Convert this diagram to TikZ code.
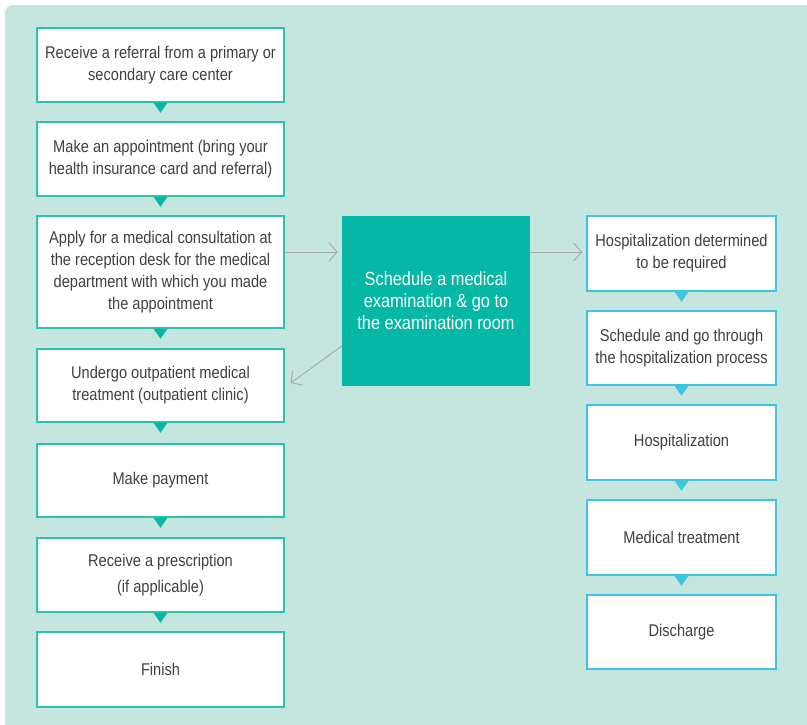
\documentclass[tikz,border=0pt]{standalone}
\usepackage{fontspec}
\setmainfont{Liberation Sans}[FakeStretch=0.86]
\usetikzlibrary{arrows.meta}
\definecolor{bgc}{HTML}{C5E5DF}
\definecolor{tealb}{HTML}{2CC2AD}
\definecolor{tealf}{HTML}{05B8A5}
\definecolor{cyanb}{HTML}{3CC6E0}
\definecolor{txt}{HTML}{404040}
\definecolor{arr}{HTML}{ABABAB}
\tikzset{
  lbox/.style={draw=tealb, line width=1.5pt, fill=white, minimum width=247pt, inner sep=0pt, align=center, text=txt, font=\fontsize{17}{22}\selectfont},
  rbox/.style={draw=cyanb, line width=1.5pt, fill=white, minimum width=189pt, minimum height=75pt, inner sep=0pt, align=center, text=txt, font=\fontsize{17}{22}\selectfont},
  cbox/.style={fill=tealf, minimum width=188pt, minimum height=170pt, inner sep=0pt, align=center, text=white, font=\fontsize{19}{22}\selectfont},
  garrow/.style={draw=arr, line width=1pt, -{Straight Barb[length=8pt,width=18pt,line width=1pt]}}
}
\begin{document}
\begin{tikzpicture}[x=1pt,y=-1pt]
\useasboundingbox (0,0) rectangle (807,724);
\fill[bgc, rounded corners=8pt] (5,5) rectangle (830,745);
% left column
\node[lbox, minimum height=74pt] (l1) at (160.5,65) {Receive a referral from a primary or\\secondary care center};
\node[lbox, minimum height=74pt] (l2) at (160.5,159) {Make an appointment (bring your\\health insurance card and referral)};
\node[lbox, minimum height=112pt] (l3) at (160.5,272) {Apply for a medical consultation at\\the reception desk for the medical\\department with which you made\\the appointment};
\node[lbox, minimum height=73pt] (l4) at (160.5,385.5) {Undergo outpatient medical\\treatment (outpatient clinic)};
\node[lbox, minimum height=73pt] (l5) at (160.5,480.5) {Make payment};
\node[lbox, minimum height=74pt] (l6) at (160.5,575) {Receive a prescription\\[4pt](if applicable)};
\node[lbox, minimum height=75pt] (l7) at (160.5,669.5) {Finish};
% center
\node[cbox] (c) at (436,301) {Schedule a medical\\examination \& go to\\the examination room};
% right column
\node[rbox] (r1) at (681.5,253.5) {Hospitalization determined\\to be required};
\node[rbox, minimum height=74pt] (r2) at (681.5,348) {Schedule and go through\\the hospitalization process};
\node[rbox] (r3) at (681.5,442.5) {Hospitalization};
\node[rbox] (r4) at (681.5,537.5) {Medical treatment};
\node[rbox, minimum height=74pt] (r5) at (681.5,632) {Discharge};
% triangles
\foreach \n in {l1,l2,l3,l4,l5,l6}
  \fill[tealf] (\n.south) ++(-7pt,0pt) -- ++(14pt,0pt) -- ++(-7pt,-10pt) -- cycle;
\foreach \n in {r1,r2,r3,r4}
  \fill[cyanb] (\n.south) ++(-7pt,0pt) -- ++(14pt,0pt) -- ++(-7pt,-10pt) -- cycle;
% arrows
\draw[garrow] ([yshift=20pt]l3.east) -- ([xshift=-4pt,yshift=20pt]c.west |- l3.east);
\draw[garrow] ([yshift=49pt]c.east) -- ([xshift=-4pt,yshift=1.5pt]r1.west);
\draw[garrow] ([yshift=-45pt]c.west) -- ([xshift=6pt,yshift=2.5pt]l4.east);
\end{tikzpicture}
\end{document}
